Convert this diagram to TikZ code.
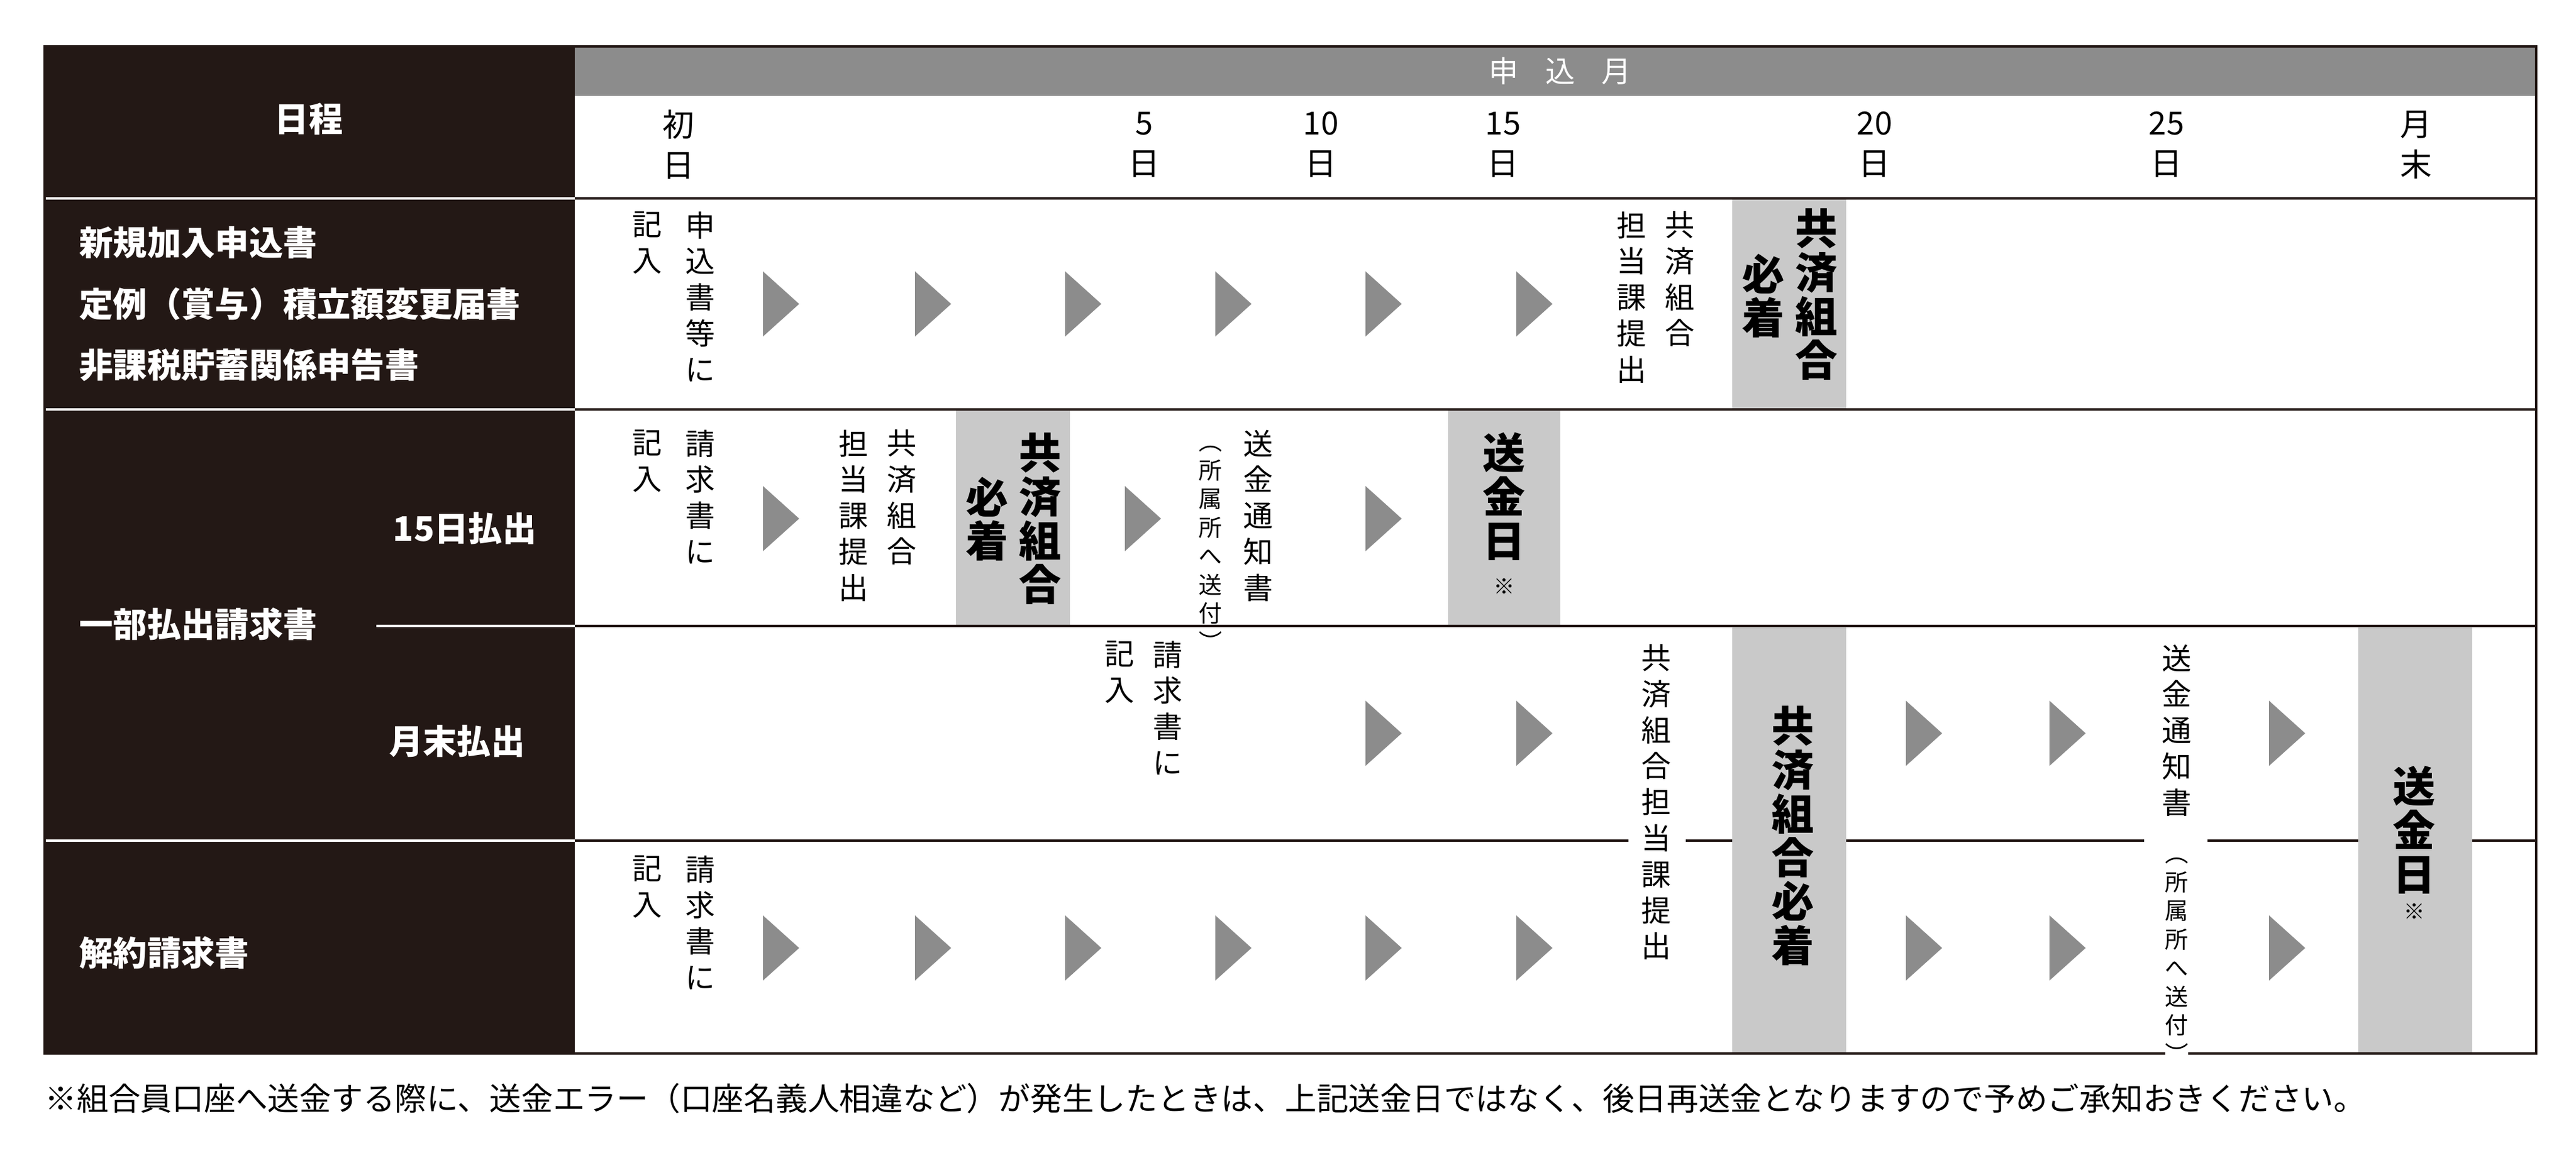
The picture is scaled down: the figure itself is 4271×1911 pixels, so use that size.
\documentclass[tikz,border=0pt]{standalone}
\usepackage{fontspec}
\setmainfont{Noto Sans CJK JP}
\usetikzlibrary{positioning}
\definecolor{darkbg}{HTML}{231815}
\definecolor{boxgray}{HTML}{C9C9C9}
\definecolor{bandgray}{HTML}{8C8C8C}
\definecolor{tipgray}{HTML}{8C8C8C}
\tikzstyle{vtext} = [anchor=north, inner sep=0pt, align=center, font=\fontsize{14}{17}\selectfont]
\tikzstyle{vsmall} = [anchor=north, inner sep=0pt, align=center, font=\fontsize{11}{13.5}\selectfont]
\tikzstyle{vbold} = [anchor=north, inner sep=0pt, align=center, font=\fontsize{20}{20.7}\selectfont\bfseries]
\tikzstyle{daylbl} = [inner sep=0pt, align=center, font=\fontsize{15}{19}\selectfont]
\tikzstyle{leftlbl} = [anchor=west, inner sep=0pt, text=white, font=\fontsize{16}{18}\selectfont\bfseries]
\tikzstyle{rightlbl} = [anchor=east, inner sep=0pt, text=white, font=\fontsize{16}{18}\selectfont\bfseries]
\tikzstyle{graybox} = [fill=boxgray, draw=none]
\tikzstyle{rowline} = [line width=1.4pt, darkbg]
\newcommand{\vparen}[1]{\rotatebox[origin=c]{-90}{#1}}
\newcommand{\tip}[2]{\fill[tipgray] (#1-30,#2-54) -- (#1+30,#2) -- (#1-30,#2+54) -- cycle;}

\begin{document}
\begin{tikzpicture}[x=0.01cm, y=-0.01cm]
    \useasboundingbox (0,0) rectangle (4271,1911);
    % left column and header band
    \fill[darkbg] (74,77) rectangle (953,1747);
    \fill[bandgray] (953,77) rectangle (4205,159);
    \draw[white, line width=1.2pt] (74,329) -- (953,329);
    \draw[white, line width=1.2pt] (74,679) -- (953,679);
    \draw[white, line width=1.2pt] (74,1394) -- (953,1394);
    \draw[white, line width=1.2pt] (624,1038) -- (953,1038);

    % gray boxes
    \fill[graybox] (2872,331) rectangle (3061,677);
    \fill[graybox] (1585,681) rectangle (1774,1036);
    \fill[graybox] (2401,681) rectangle (2587,1036);
    \fill[graybox] (2872,1040) rectangle (3061,1745);
    \fill[graybox] (3910,1040) rectangle (4099,1745);

    % row lines
    \draw[rowline] (953,329) -- (4205,329);
    \draw[rowline] (953,679) -- (4205,679);
    \draw[rowline] (953,1038) -- (4205,1038);
    \draw[line width=1pt, darkbg] (953,1394) -- (2700,1394) (2795,1394) -- (2872,1394)
        (3061,1394) -- (3555,1394) (3660,1394) -- (3910,1394) (4099,1394) -- (4205,1394);
    \draw[line width=1pt, darkbg] (74,77) rectangle (4205,1747);

    % header
    \node[text=white, font=\fontsize{16}{18}\selectfont\bfseries] (sched) at (512,197) {日程};
    \node[text=white, font=\fontsize{14}{16}\selectfont] (month) at (2587,118) {申\hspace{0.9em}込\hspace{0.9em}月};
    \node[daylbl] (d1) at (1125,240) {初\\日};
    \node[daylbl] (d5) at (1897,240) {5\\日};
    \node[daylbl] (d10) at (2190,240) {10\\日};
    \node[daylbl] (d15) at (2492,240) {15\\日};
    \node[daylbl] (d20) at (3108,240) {20\\日};
    \node[daylbl] (d25) at (3592,240) {25\\日};
    \node[daylbl] (dend) at (4006,240) {月\\末};

    % left labels
    \node[leftlbl] (new) at (131,402) {新規加入申込書};
    \node[leftlbl] (regular) at (131,504) {定例（賞与）積立額変更届書};
    \node[leftlbl] (taxfree) at (131,605) {非課税貯蓄関係申告書};
    \node[rightlbl] (pay15) at (890,876) {15日払出};
    \node[leftlbl] (partial) at (131,1035) {一部払出請求書};
    \node[rightlbl] (payend) at (871,1229) {月末払出};
    \node[leftlbl] (cancel) at (131,1580) {解約請求書};

    % row 1
    \node[vtext] (r1a) at (1161,350) {申\\込\\書\\等\\に};
    \node[vtext] (r1b) at (1073,350) {記\\入};
    \foreach \x in {1295,1547,1796,2045,2294,2544} {\tip{\x}{504}}
    \node[vtext] (r1c) at (2785,350) {共\\済\\組\\合};
    \node[vtext] (r1d) at (2705,350) {担\\当\\課\\提\\出};
    \node[vbold] (r1e) at (3012,345) {共\\済\\組\\合};
    \node[vbold] (r1f) at (2924,420) {必\\着};

    % row 2
    \node[vtext] (r2a) at (1161,712) {請\\求\\書\\に};
    \node[vtext] (r2b) at (1073,712) {記\\入};
    \tip{1295}{860}
    \node[vtext] (r2c) at (1495,712) {共\\済\\組\\合};
    \node[vtext] (r2d) at (1415,712) {担\\当\\課\\提\\出};
    \node[vbold] (r2e) at (1725,717) {共\\済\\組\\合};
    \node[vbold] (r2f) at (1637,790) {必\\着};
    \tip{1895}{860}
    \node[vtext] (r2g) at (2086,712) {送\\金\\通\\知\\書};
    \node[vsmall] (r2h) at (2007,712) {\vparen{（}\\所\\属\\所\\へ\\送\\付\\\vparen{）}};
    \tip{2294}{860}
    \node[vbold] (r2i) at (2494,717) {送\\金\\日};
    \node[font=\fontsize{10}{12}\selectfont] (r2j) at (2494,972) {※};

    % rows 3 and 4
    \node[vtext] (r3a) at (1936,1062) {請\\求\\書\\に};
    \node[vtext] (r3b) at (1856,1062) {記\\入};
    \foreach \x in {2294,2544,3190,3428,3792} {\tip{\x}{1216}}
    \node[vtext] (r3c) at (2746,1068) {共\\済\\組\\合\\担\\当\\課\\提\\出};
    \node[vbold] (r3d) at (2973,1170) {共\\済\\組\\合\\必\\着};
    \node[vtext, fill=white, inner ysep=0pt] (r3e) at (3609,1068) {送\\金\\通\\知\\書};
    \node[vsmall, fill=white] (r3f) at (3609,1395) {\vparen{（}\\所\\属\\所\\へ\\送\\付\\\vparen{）}};
    \node[vbold] (r3g) at (4003,1270) {送\\金\\日};
    \node[font=\fontsize{10}{12}\selectfont] (r3h) at (4003,1511) {※};
    \node[vtext] (r4a) at (1161,1418) {請\\求\\書\\に};
    \node[vtext] (r4b) at (1073,1418) {記\\入};
    \foreach \x in {1295,1547,1796,2045,2294,2544,3190,3428,3792} {\tip{\x}{1572}}

    % footnote
    \node[anchor=west, inner sep=0pt, font=\fontsize{15}{18}\selectfont] (note) at (74,1821)
        {※組合員口座へ送金する際に、送金エラー（口座名義人相違など）が発生したときは、上記送金日ではなく、後日再送金となりますので予めご承知おきください。};
\end{tikzpicture}
\end{document}
